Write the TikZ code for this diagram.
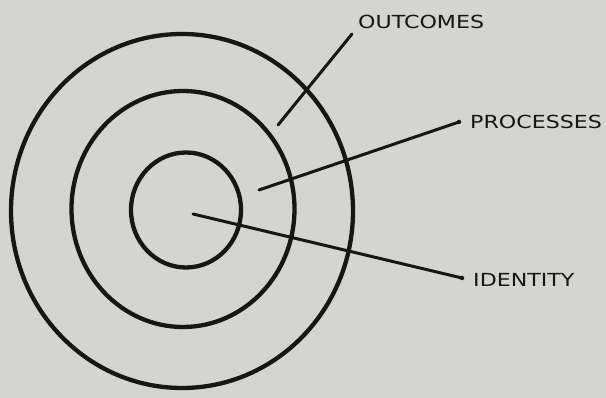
\documentclass[tikz,border=0pt]{standalone}
\usepackage{fontspec}
\setmainfont{DejaVu Sans}
\usetikzlibrary{shapes.geometric}
\definecolor{paper}{RGB}{212,212,209}
\definecolor{ink}{RGB}{22,22,20}
\begin{document}
\begin{tikzpicture}[x=1pt,y=-1pt,
  ring/.style={draw=ink, line width=4.3pt, ellipse, inner sep=0pt},
  leader/.style={draw=ink, line width=3pt, line cap=round},
  lbl/.style={font=\fontsize{18}{18}\selectfont, text=ink, xscale=1.23, inner sep=0pt, anchor=west},
  dotend/.style={circle, fill=ink, inner sep=0pt, minimum size=4.5pt}]
\fill[paper] (0,0) rectangle (606,398);
\useasboundingbox (0,0) rectangle (606,398);
% rings
\node[ring, minimum width=342pt, minimum height=354pt] (outer) at (182,211) {};
\node[ring, minimum width=223pt, minimum height=236pt] (middle) at (183,209) {};
\node[ring, minimum width=110pt, minimum height=115pt] (inner) at (186,210) {};
% labels
\node[lbl] (outcomes) at (358,22) {OUTCOMES};
\node[lbl] (processes) at (470,122) {PROCESSES};
\node[lbl] (identity) at (473,280) {IDENTITY};
% leader ends
\coordinate (oA) at (278,125);
\coordinate (oB) at (352,34);
\coordinate (pA) at (259,190);
\node[dotend] (pB) at (459,122) {};
\coordinate (iA) at (193,214);
\node[dotend] (iB) at (462,278) {};
\draw[leader] (oA) -- (oB);
\draw[leader] (pA) -- (pB.center);
\draw[leader] (iA) -- (iB.center);
\end{tikzpicture}
\end{document}
